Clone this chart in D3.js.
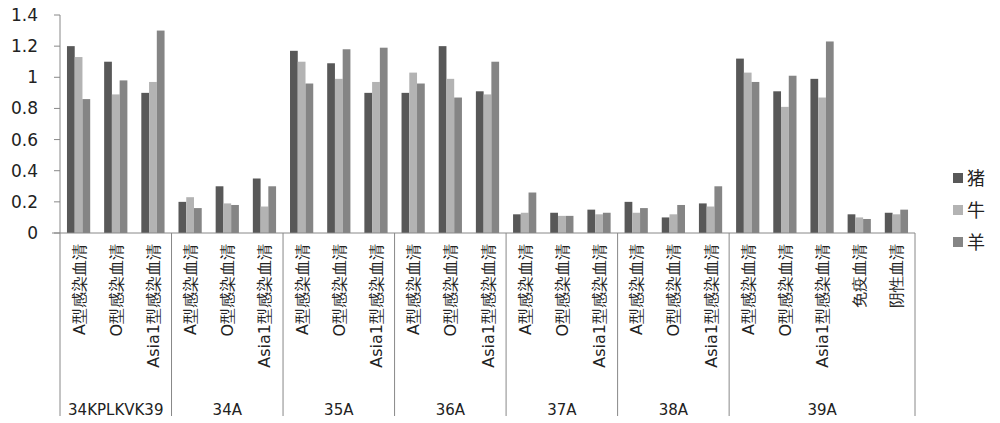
<!DOCTYPE html><html><head><meta charset="utf-8"><script src="https://cdn.jsdelivr.net/npm/d3@7"></script>
<style>body{margin:0;background:#fff}</style></head><body><svg id="c" width="1000" height="423"></svg><script>
const categories=["A型感染血清","O型感染血清","Asia1型感染血清","A型感染血清","O型感染血清","Asia1型感染血清","A型感染血清","O型感染血清","Asia1型感染血清","A型感染血清","O型感染血清","Asia1型感染血清","A型感染血清","O型感染血清","Asia1型感染血清","A型感染血清","O型感染血清","Asia1型感染血清","A型感染血清","O型感染血清","Asia1型感染血清","免疫血清","阴性血清"];
const groups=["34KPLKVK39","34A","35A","36A","37A","38A","39A"];
const groupSizes=[3,3,3,3,3,3,5];
const seriesNames=["猪","牛","羊"];
const pig=[1.2,1.1,0.9,0.2,0.3,0.35,1.17,1.09,0.9,0.9,1.2,0.91,0.12,0.13,0.15,0.2,0.1,0.19,1.12,0.91,0.99,0.12,0.13];
const cattle=[1.13,0.89,0.97,0.23,0.19,0.17,1.1,0.99,0.97,1.03,0.99,0.89,0.13,0.11,0.12,0.13,0.12,0.17,1.03,0.81,0.87,0.1,0.12];
const sheep=[0.86,0.98,1.3,0.16,0.18,0.3,0.96,1.18,1.19,0.96,0.87,1.1,0.26,0.11,0.13,0.16,0.18,0.3,0.97,1.01,1.23,0.09,0.15];
const yTicks=[0,0.2,0.4,0.6,0.8,1,1.2,1.4];
const colors=["#585858","#b3b3b3","#858585"];
const series=[pig,cattle,sheep];
const svg=d3.select("#c");
const L=60,R=915,T=15,B=233;
const idx=categories.map((_,i)=>i);
const x=d3.scaleBand().domain(idx).range([L,R]);
const xs=d3.scaleBand().domain([0,1,2]).range([0,x.bandwidth()]).paddingInner(0).paddingOuter(0.9);
const y=d3.scaleLinear().domain([0,1.4]).range([B,T]);
const font="'DejaVu Sans',sans-serif";
svg.append("line").attr("x1",L).attr("x2",L).attr("y1",T).attr("y2",B).attr("stroke","#888");
svg.selectAll(".yt").data(yTicks).enter().append("text").attr("x",38).attr("y",d=>y(d)+6).attr("text-anchor","end")
 .attr("font-family",font).attr("font-size",17).attr("fill","#222").text(d=>d);
svg.selectAll(".ytk").data(yTicks).enter().append("line").attr("x1",L-6).attr("x2",L).attr("y1",d=>y(d)).attr("y2",d=>y(d)).attr("stroke","#888");
series.forEach((s,si)=>{
 svg.append("g").selectAll("rect").data(s).enter().append("rect")
  .attr("x",(d,i)=>x(i)+xs(si)).attr("width",xs.bandwidth()).attr("y",d=>y(d)).attr("height",d=>B-y(d)).attr("fill",colors[si]);
});
svg.append("line").attr("x1",L-8).attr("x2",R).attr("y1",B).attr("y2",B).attr("stroke","#888");
svg.selectAll(".cl").data(categories).enter().append("text")
 .attr("transform",(d,i)=>`translate(${x(i)+x.bandwidth()/2+6},244) rotate(-90)`)
 .attr("text-anchor","end")
 .attr("font-family",font).attr("font-size",16).attr("fill","#222").text(d=>d);
let acc=0;const bounds=[0];groupSizes.forEach(g=>{acc+=g;bounds.push(acc);});
bounds.forEach(b=>{const px=b<categories.length?x(b):R;
 svg.append("line").attr("x1",px).attr("x2",px).attr("y1",B).attr("y2",416).attr("stroke","#888");});
groups.forEach((g,gi)=>{const a=x(bounds[gi]),b=bounds[gi+1]<categories.length?x(bounds[gi+1]):R;
 svg.append("text").attr("x",(a+b)/2).attr("y",415).attr("text-anchor","middle").attr("font-family",font).attr("font-size",15).attr("fill","#222").text(g);});
seriesNames.forEach((n,i)=>{const yy=178+i*32;
 svg.append("rect").attr("x",953).attr("y",yy-5).attr("width",10).attr("height",10).attr("fill",colors[i]);
 svg.append("text").attr("x",967).attr("y",yy+7).attr("font-family","'Noto Sans CJK SC',sans-serif").attr("font-size",18).attr("fill","#222").text(n);});
</script></body></html>
